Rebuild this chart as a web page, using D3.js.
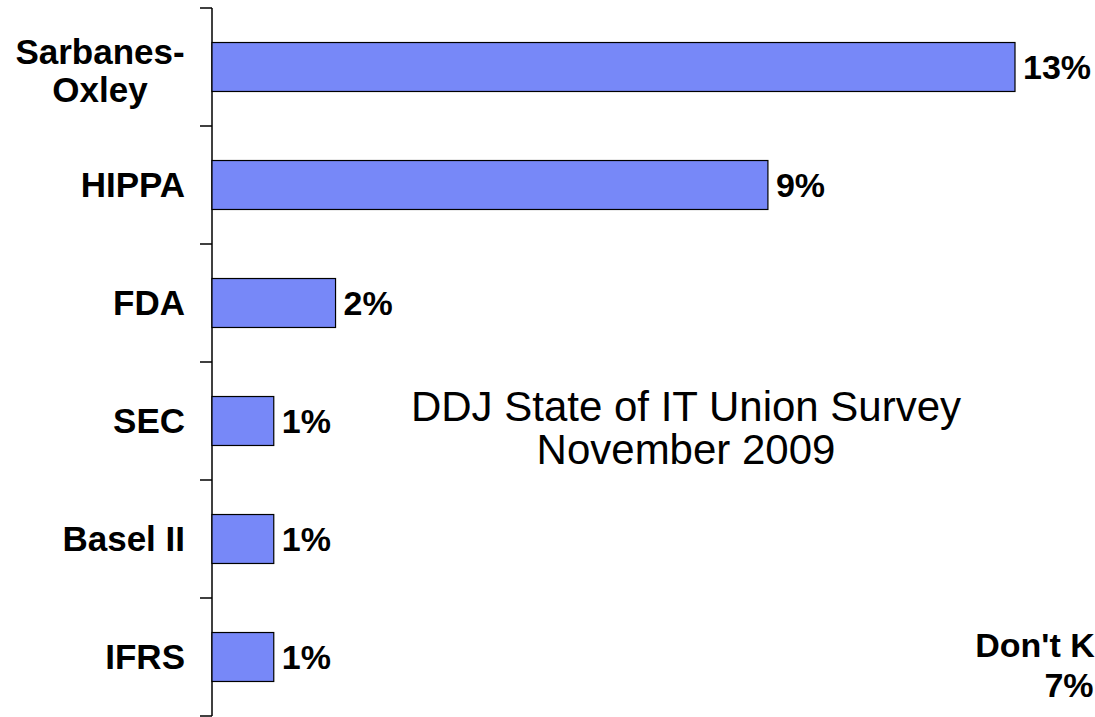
<!DOCTYPE html>
<html>
<head>
<meta charset="utf-8">
<script src="https://cdn.jsdelivr.net/npm/d3@7"></script>
<style>
  body { margin: 0; background: #fff; overflow: hidden; }
  svg { display: block; font-family: "Liberation Sans", Arial, sans-serif; }
  .cat { font-weight: bold; font-size: 35px; fill: #000; }
  .val, .other { font-weight: bold; font-size: 34px; fill: #000; }
  .title { font-size: 42px; fill: #000; }
  .bar { fill: #7788f8; stroke: #000; stroke-width: 1.2; }
</style>
</head>
<body>
<div id="chart"></div>
<script>
// data
var categories = [["Sarbanes-", "Oxley"], ["HIPPA"], ["FDA"], ["SEC"], ["Basel II"], ["IFRS"]];
var values = [13, 9, 2, 1, 1, 1];
var titleLines = ["DDJ State of IT Union Survey", "November 2009"];
var otherLabel = ["Don't Know", "7%"];

var width = 1095, height = 717;

var svg = d3.select("#chart").append("svg")
  .attr("width", width)
  .attr("height", height);

var rows = categories.map(function(c, i) { return { name: c, value: values[i], key: i }; });

var y = d3.scaleBand()
  .domain(d3.range(rows.length))
  .range([8, 716])
  .paddingInner(0.585)
  .paddingOuter(0.2925);

var x = d3.scaleLinear()
  .domain([0, 13])
  .range([212, 1015]);

// axis: line plus ticks at band boundaries
var tickPos = d3.range(rows.length + 1).map(function(i) { return y.range()[0] + i * y.step(); });
var axis = svg.append("g");
axis.append("line")
  .attr("x1", x(0)).attr("x2", x(0))
  .attr("y1", tickPos[0]).attr("y2", tickPos[tickPos.length - 1])
  .attr("stroke", "#000").attr("stroke-width", 1.5);
axis.selectAll(".tick")
  .data(tickPos)
  .enter().append("line")
  .attr("x1", x(0) - 12).attr("x2", x(0))
  .attr("y1", function(d) { return d; }).attr("y2", function(d) { return d; })
  .attr("stroke", "#000").attr("stroke-width", 1.5);

// bars
svg.append("g").selectAll("rect")
  .data(rows)
  .enter().append("rect")
  .attr("class", "bar")
  .attr("x", x(0))
  .attr("y", function(d) { return y(d.key); })
  .attr("width", function(d) { return x(d.value) - x(0); })
  .attr("height", y.bandwidth());

// value labels
svg.append("g").selectAll("text")
  .data(rows)
  .enter().append("text")
  .attr("class", "val")
  .attr("x", function(d) { return x(d.value) + 8; })
  .attr("y", function(d) { return y(d.key) + y.bandwidth() / 2 + 12; })
  .text(function(d) { return d.value + "%"; });

// category labels (may wrap to two lines)
var lineH = 38;
var cat = svg.append("g").selectAll("text")
  .data(rows)
  .enter().append("text")
  .attr("class", "cat")
  .attr("text-anchor", "middle")
  .attr("y", function(d) {
    var mid = y(d.key) + y.bandwidth() / 2 + 12;
    return mid - (d.name.length - 1) * lineH / 2 + (d.name.length > 1 ? 4 : 0);
  });
cat.filter(function(d) { return d.name.length == 1; }).attr("text-anchor", "end");
cat.selectAll("tspan")
  .data(function(d) { return d.name.map(function(n) { return { n: n, multi: d.name.length > 1 }; }); })
  .enter().append("tspan")
  .attr("x", function(t) { return t.multi ? 100 : 185; })
  .attr("dy", function(t, i) { return i ? lineH : 0; })
  .text(function(t) { return t.n; });

// title in the middle of the plot
svg.append("g").selectAll("text")
  .data(titleLines)
  .enter().append("text")
  .attr("class", "title")
  .attr("text-anchor", "middle")
  .attr("x", 686)
  .attr("y", function(d, i) { return 421 + i * 43; })
  .text(function(d) { return d; });

// label of a neighbouring chart, cut off at the right edge as in the source
svg.append("g").selectAll("text")
  .data(otherLabel)
  .enter().append("text")
  .attr("class", "other")
  .attr("text-anchor", "middle")
  .attr("x", 1069)
  .attr("y", function(d, i) { return 657 + i * 40; })
  .text(function(d) { return d; });
</script>
</body>
</html>
